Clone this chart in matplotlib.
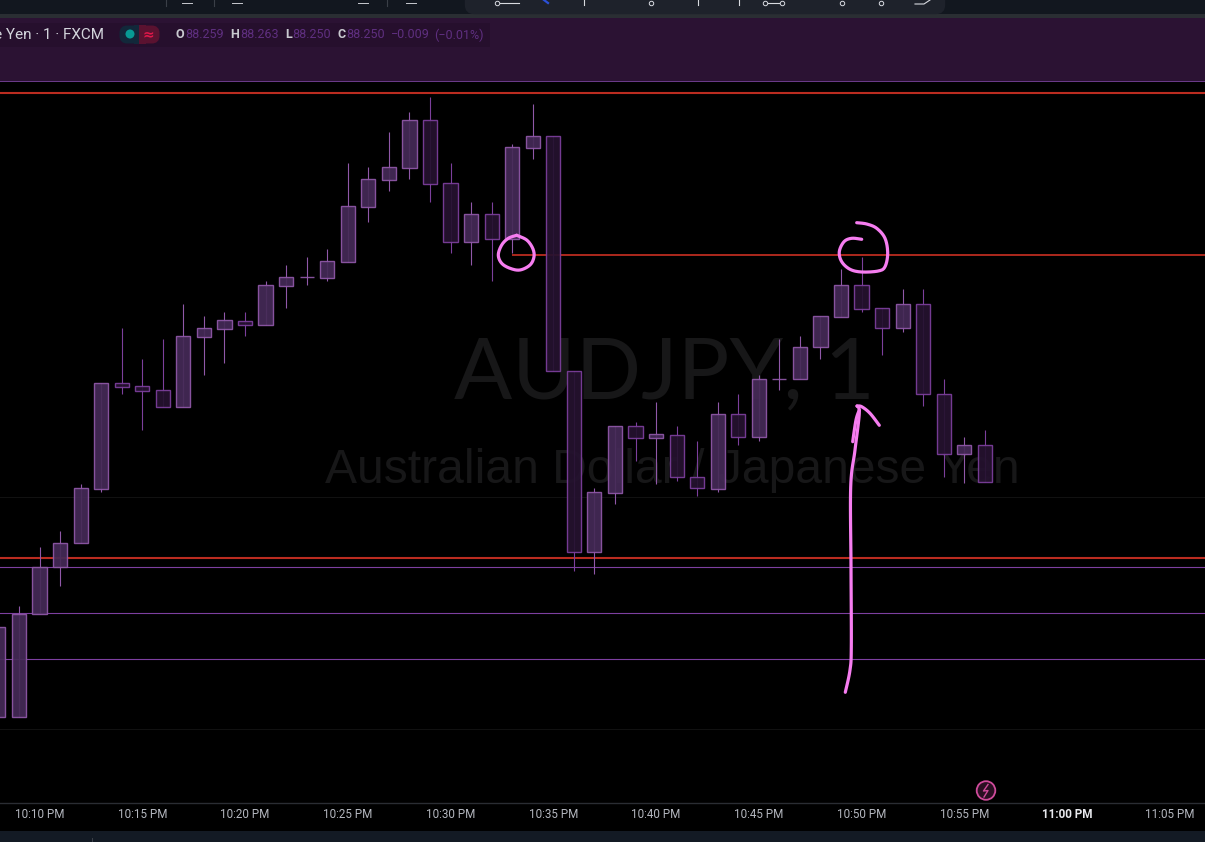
"""
AUDJPY 1 minute candles, dark purple theme, with the pink hand drawn marks on top
"""
import numpy as np
import matplotlib
matplotlib.use("Agg")
import matplotlib.pyplot as plt
from matplotlib.patches import Rectangle, FancyBboxPatch, Circle
from matplotlib.transforms import Affine2D

###
# DATA
###

# minutes after 10:00 PM
minutes = [8, 9, 10, 11, 12, 13, 14, 15, 16, 17, 18, 19, 20, 21, 22, 23, 24,
           25, 26, 27, 28, 29, 30, 31, 32, 33, 34, 35, 36, 37, 38, 39, 40,
           41, 42, 43, 44, 45, 46, 47, 48, 49, 50, 51, 52, 53, 54, 55, 56]

opens = [88.1911, 88.1911, 88.2168, 88.2285, 88.2345, 88.2480, 88.2745, 88.2738, 88.2728, 88.2685,
         88.2861, 88.2880, 88.2901, 88.2891, 88.2988, 88.3010, 88.3008, 88.3048, 88.3185, 88.3253,
         88.3283, 88.3403, 88.3245, 88.3098, 88.3168, 88.3105, 88.3333, 88.3363, 88.2775, 88.2323,
         88.2470, 88.2638, 88.2608, 88.2616, 88.2510, 88.2481, 88.2668, 88.2609, 88.2755, 88.2755,
         88.2835, 88.2910, 88.2990, 88.2933, 88.2883, 88.2943, 88.2718, 88.2568, 88.2590]
highs = [88.2136, 88.2188, 88.2335, 88.2375, 88.2493, 88.2745, 88.2883, 88.2805, 88.2855, 88.2943,
         88.2913, 88.2923, 88.2923, 88.3000, 88.3040, 88.3060, 88.3080, 88.3295, 88.3285, 88.3373,
         88.3423, 88.3460, 88.3295, 88.3198, 88.3198, 88.3343, 88.3443, 88.3363, 88.2775, 88.2483,
         88.2638, 88.2648, 88.2698, 88.2638, 88.2600, 88.2698, 88.2718, 88.2765, 88.2855, 88.2863,
         88.2913, 88.3030, 88.3060, 88.2933, 88.2980, 88.2980, 88.2755, 88.2610, 88.2628]
lows = [88.1911, 88.1911, 88.2168, 88.2238, 88.2345, 88.2473, 88.2718, 88.2628, 88.2685, 88.2685,
        88.2765, 88.2795, 88.2863, 88.2891, 88.2933, 88.2990, 88.3000, 88.3048, 88.3148, 88.3225,
        88.3255, 88.3198, 88.3070, 88.3040, 88.3000, 88.3070, 88.3305, 88.2775, 88.2275, 88.2268,
        88.2443, 88.2550, 88.2493, 88.2500, 88.2463, 88.2473, 88.2590, 88.2600, 88.2728, 88.2755,
        88.2805, 88.2910, 88.2923, 88.2815, 88.2873, 88.2688, 88.2510, 88.2495, 88.2498]
closes = [88.2136, 88.2168, 88.2285, 88.2345, 88.2483, 88.2745, 88.2735, 88.2725, 88.2685, 88.2863,
          88.2883, 88.2903, 88.2891, 88.2990, 88.3010, 88.3010, 88.3050, 88.3188, 88.3255, 88.3285,
          88.3403, 88.3243, 88.3098, 88.3168, 88.3105, 88.3335, 88.3363, 88.2775, 88.2323, 88.2473,
          88.2638, 88.2608, 88.2618, 88.2510, 88.2483, 88.2668, 88.2610, 88.2755, 88.2755, 88.2835,
          88.2913, 88.2990, 88.2930, 88.2883, 88.2943, 88.2718, 88.2568, 88.2590, 88.2498]

# horizontal levels
red_levels = [88.3471, 88.23075]
ray_level = 88.3065
ray_start = 33
purple_levels = [88.2286, 88.2169, 88.2054]
grid_levels = [88.2460, 88.1879]

tick_minutes = [10, 15, 20, 25, 30, 35, 40, 45, 50, 55, 60, 65]
tick_labels = ["10:10 PM", "10:15 PM", "10:20 PM", "10:25 PM", "10:30 PM", "10:35 PM",
               "10:40 PM", "10:45 PM", "10:50 PM", "10:55 PM", "11:00 PM", "11:05 PM"]

# legend pieces: text, x position, is it a letter
ohlc_parts = [("O", 175, True), ("88.259", 185, False), ("H", 230, True), ("88.263", 240, False),
              ("L", 285, True), ("88.250", 292, False), ("C", 337, True), ("88.250", 346, False),
              ("\u22120.009", 391, False), ("(\u22120.01%)", 434, False)]

# hand drawn marks, in screen pixels
circle_a_x = [516.7, 526.7, 532.7, 534, 530, 520, 510, 501.7, 498.3, 501.7, 508.3, 516.7]
circle_a_y = [235.3, 240, 248.3, 256.7, 265, 270, 268.3, 263.3, 255, 245, 238.3, 235.3]
circle_b_x = [861.7, 851.7, 844, 839.3, 841.7, 850, 861.7, 878.3, 885, 887.7, 885, 876.7, 866.7, 856.7]
circle_b_y = [239.3, 238.3, 241.7, 251.7, 261.7, 269.3, 272, 271, 266.7, 253.3, 238.3, 228.3, 224, 222.7]
shaft_x = [845.3, 850, 851.3, 851, 850.7, 855, 859.3, 857]
shaft_y = [692.3, 670, 646.7, 566.7, 486.7, 450, 413.3, 406]
head_x = [857, 861.7, 870, 879.3]
head_y = [406, 406.7, 413.3, 425.3]
arrow_back_x = [859.3, 856, 852.7]
arrow_back_y = [410, 420, 441.7]

# toolbar glyphs cut off at the top of the screenshot
panel_nodes = [497, 651, 765, 782, 842, 881]
panel_stems = [584, 698, 739]
toolbar_seps = [166, 213.5, 387]

###
# COLORS
###
UP_FACE = "#452a57"
UP_EDGE = "#9058a8"
DOWN_FACE = "#25122f"
DOWN_EDGE = "#7c3f9c"
RED = "#bb2c20"
PURPLE = "#7d3fa0"
PINK = "#f67df0"
WIDTH = 0.69

W, H = 1205, 842


def smooth(xs, ys, n=12):
    # catmull-rom through the picked points so the pen marks are not jagged
    pts = np.column_stack([xs, ys])
    pts = np.vstack([pts[0], pts, pts[-1]])
    out = []
    for i in range(1, len(pts) - 2):
        p0, p1, p2, p3 = pts[i - 1], pts[i], pts[i + 1], pts[i + 2]
        for t in np.linspace(0, 1, n, endpoint=False):
            out.append(0.5 * (2 * p1 + (p2 - p0) * t + (2 * p0 - 5 * p1 + 4 * p2 - p3) * t**2
                              + (3 * p1 - p0 - 3 * p2 + p3) * t**3))
    out.append(pts[-2])
    out = np.array(out)
    return out[:, 0], out[:, 1]


fig = plt.figure(figsize=(W / 100, H / 100), dpi=100, facecolor="black")
ax = fig.add_axes([0, (H - 803) / H, 1, (803 - 82) / H], facecolor="black")
ax.set_xlim(8.078, 66.71)
ax.set_ylim(88.1695, 88.34975)

# screen pixel coords for everything that is not price data
px = Affine2D().scale(1 / W, -1 / H).translate(0, 1) + fig.transFigure

## watermark sits behind the candles
ax.text(664.5, 398, "AUDJPY, 1", transform=px, family="Lato", fontsize=62, color="#171718",
        ha="center", va="baseline", zorder=0)
ax.text(672, 483, "Australian Dollar / Japanese Yen", transform=px, family="Liberation Sans", fontsize=34.6,
        color="#171718", ha="center", va="baseline", zorder=0)

## levels
ax.hlines(grid_levels, 8, 67, color="#111111", lw=0.8, zorder=1)
ax.hlines(purple_levels, 8, 67, color=PURPLE, lw=0.8, zorder=1)
ax.hlines(red_levels, 8, 67, color=RED, lw=1.5, zorder=2)
ax.hlines(ray_level, ray_start, 67, color=RED, lw=1.3, zorder=2)

## candles
for m, o, h, l, c in zip(minutes, opens, highs, lows, closes):
    up = c >= o
    edge = UP_EDGE if up else DOWN_EDGE
    face = UP_FACE if up else DOWN_FACE
    ax.vlines(m, l, h, color=edge, lw=0.8, zorder=3)
    ax.bar(m, abs(c - o), width=WIDTH, bottom=min(o, c), facecolor=face, edgecolor=edge,
           linewidth=1.0, alpha=0.93, zorder=4)

## axis
for side in ["top", "left", "right"]:
    ax.spines[side].set_visible(False)
ax.spines["bottom"].set_color("#2a2d33")
ax.spines["bottom"].set_linewidth(1.0)
ax.set_yticks([])
ax.set_xticks(tick_minutes)
ax.set_xticklabels(tick_labels, family="Roboto", fontsize=8.4, color="#b4b7bf")
ax.tick_params(axis="x", length=0, pad=3.8)
for lab in ax.get_xticklabels():
    if lab.get_text() == "11:00 PM":
        lab.set_fontweight("bold")
        lab.set_color("#e8e9ee")


## top chrome
def band(x, y, w, h, color, z=6):
    ax.add_patch(Rectangle((x, y), w, h, transform=px, facecolor=color, edgecolor="none",
                           clip_on=False, zorder=z))


band(0, 0, W, 14, "#12171f")
band(0, 14, W, 4, "#2a2e33")
band(0, 18, W, 63, "#2b1233")
band(0, 81, W, 1, "#693a88")
band(0, 23, 490, 24, "#260f2d", z=7)

# floating drawing panel
ax.add_patch(FancyBboxPatch((469, -10), 472, 20, boxstyle="round,pad=0,rounding_size=5", transform=px,
                            facecolor="#1e222b", edgecolor="#1e222b", linewidth=6, clip_on=False, zorder=7))
for x in toolbar_seps:
    ax.plot([x, x], [0, 6], transform=px, color="#3a3f47", lw=0.8, clip_on=False, zorder=8)
ax.plot([500, 519], [3, 3], transform=px, color="#d8dae0", lw=0.8, clip_on=False, zorder=8)
ax.plot([768, 779], [3, 3], transform=px, color="#d8dae0", lw=0.8, clip_on=False, zorder=8)
ax.plot([544, 548], [0, 3], transform=px, color="#2b50d8", lw=1.6, clip_on=False, zorder=8)
for x in panel_nodes:
    ax.plot([x], [3], transform=px, marker="o", ms=3.2, mfc="#1e222b", mec="#d8dae0", mew=0.7,
            clip_on=False, zorder=8)
for x in panel_stems:
    ax.plot([x, x], [0, 5], transform=px, color="#d8dae0", lw=0.8, clip_on=False, zorder=8)
ax.plot([915, 924, 930], [4, 4, 0], transform=px, color="#d8dae0", lw=0.8, clip_on=False, zorder=8)
for x in [187, 237, 363, 411]:
    ax.plot([x - 5, x + 5], [3, 3], transform=px, color="#c8cad0", lw=0.7, clip_on=False, zorder=8)

## legend row
ax.text(104, 35, "e Yen \u00b7 1 \u00b7 FXCM", transform=px, family="Roboto", fontsize=11, color="#d3d5dc",
        ha="right", va="center", clip_on=False, zorder=9)
ax.add_patch(FancyBboxPatch((123, 29), 16, 11, boxstyle="round,pad=0,rounding_size=4", transform=px,
                            facecolor="#12283a", edgecolor="#12283a", linewidth=5, clip_on=False, zorder=8))
ax.add_patch(FancyBboxPatch((141, 29), 15, 11, boxstyle="round,pad=0,rounding_size=4", transform=px,
                            facecolor="#5a1230", edgecolor="#5a1230", linewidth=5, clip_on=False, zorder=8))
band(134, 25, 6, 19, "#12283a", z=8)
band(139, 25, 7, 19, "#5a1230", z=8)
ax.add_patch(Circle((130, 34), 4.5, transform=px, facecolor="#089b94", edgecolor="none",
                    clip_on=False, zorder=9))
ax.text(148, 34, "\u2248", transform=px, family="DejaVu Sans", fontsize=10, fontweight="bold", color="#e0184a",
        ha="center", va="center", clip_on=False, zorder=9)
for text, x, letter in ohlc_parts:
    ax.text(x, 35, text, transform=px, family="Roboto", fontsize=9,
            color="#c9cad0" if letter else "#5f2f80",
            fontweight="bold" if letter else "normal",
            ha="left", va="center", clip_on=False, zorder=9)

## lightning badge near the time axis
ax.add_patch(Circle((986, 790.5), 9.3, transform=px, facecolor="#2a0f22", edgecolor="#cf4b9b", linewidth=1.3,
                    clip_on=False, zorder=5))
ax.plot([988, 983.5, 988, 984], [784.5, 791, 790.5, 797], transform=px, color="#cf4b9b", lw=1.0,
        clip_on=False, zorder=6)

## bottom strip
band(0, 831, W, 11, "#131a24")
band(92, 838, 1, 4, "#3a3f47", z=7)

## pink marks
strokes = [(circle_a_x, circle_a_y), (circle_b_x, circle_b_y), (shaft_x, shaft_y), (head_x, head_y),
           (arrow_back_x, arrow_back_y)]
for xs, ys in strokes:
    sx, sy = smooth(xs, ys)
    ax.plot(sx, sy, transform=px, color=PINK, lw=2.3, solid_capstyle="round", solid_joinstyle="round",
            clip_on=False, zorder=10)

fig.savefig("out.png", dpi=100, facecolor="black")
